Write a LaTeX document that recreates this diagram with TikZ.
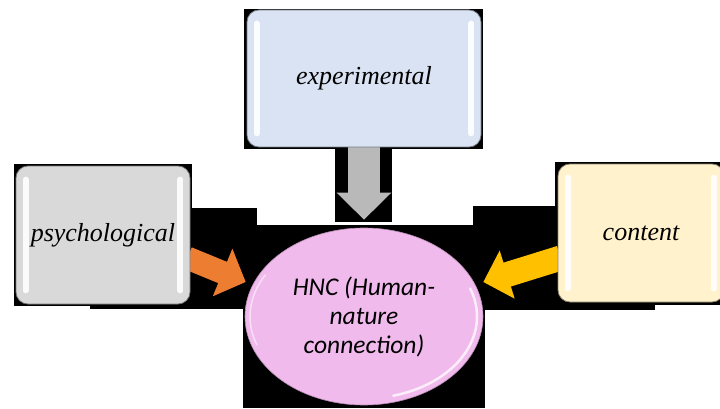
\documentclass[tikz,border=0pt]{standalone}
\usepackage{fontspec}
\setmainfont{Liberation Serif}
\newfontfamily\hncfont{Carlito}
\usetikzlibrary{shapes.geometric,arrows.meta,calc}

\definecolor{expfill}{RGB}{218,227,243}
\definecolor{psyfill}{RGB}{217,217,217}
\definecolor{confill}{RGB}{255,242,204}
\definecolor{hncfill}{RGB}{241,186,236}
\definecolor{orangearrow}{RGB}{237,125,49}
\definecolor{goldarrow}{RGB}{255,192,0}
\definecolor{grayarrow}{RGB}{185,185,185}

\pgfdeclarelayer{backdrop}
\pgfdeclarelayer{links}
\pgfsetlayers{backdrop,links,main}

\begin{document}
\begin{tikzpicture}[x=1pt,y=-1pt,
  panel/.style={rounded corners=12pt, draw=#1!55!black, line width=0.8pt,
    fill=#1, minimum height=137pt, inner sep=0pt,
    font=\fontsize{26}{30}\selectfont\itshape, text=black},
  gloss/.style={white, line width=6pt, line cap=round, opacity=0.9},
  blockarrow/.style args={#1/#2/#3/#4}{draw=#1, fill=#1, line width=#2,
    -{Triangle[width=#3,length=#4]}},
  hncnode/.style={ellipse, fill=hncfill, draw=hncfill!75!black, line width=0.6pt,
    minimum width=238pt, minimum height=177pt, inner sep=0pt, align=center,
    font=\hncfont\fontsize{25.5}{29}\selectfont\itshape}
]
\useasboundingbox (0,0) rectangle (720,409);

% white page and dark backing plates behind each shape
\begin{pgfonlayer}{backdrop}
  \fill[white] (0,0) rectangle (720,409);
  \fill[black] (244,9) rectangle (483,149);
  \fill[black] (335,149) rectangle (392,222);
  \fill[black] (90,208) rectangle (257,309);
  \fill[black] (14,164) rectangle (192,306);
  \fill[black] (473,206) rectangle (655,310);
  \fill[black] (555,162) rectangle (720,305);
  \fill[black] (243,225) rectangle (485,408);
\end{pgfonlayer}

% source boxes
\node[panel=expfill, minimum width=234pt] (exp) at (364,78.5) {experimental};
\node[panel=psyfill, minimum width=174pt, minimum height=138pt] (psy) at (103,235) {psychological};
\node[panel=confill, minimum width=166pt, minimum height=138pt] (con) at (641,233) {content};

% glossy side highlights
\foreach \b in {exp,psy,con}{
  \draw[gloss] ([xshift=10pt,yshift=-14pt]\b.north west) -- ([xshift=10pt,yshift=14pt]\b.south west);
  \draw[gloss] ([xshift=-10pt,yshift=-14pt]\b.north east) -- ([xshift=-10pt,yshift=14pt]\b.south east);
}

% central ellipse
\node[hncnode] (hnc) at (364,316.5) {HNC (Human-\\nature\\connection)};
\draw[white, line width=2.5pt, opacity=0.75, line cap=round]
  ([shift={(-75:113pt and 82pt)}]hnc.center) arc[start angle=-75, end angle=20, x radius=113pt, y radius=82pt];
\draw[white, line width=1.5pt, opacity=0.55, line cap=round]
  ([shift={(150:114pt and 83pt)}]hnc.center) arc[start angle=150, end angle=200, x radius=114pt, y radius=83pt];

% block arrows into the ellipse
\begin{pgfonlayer}{links}
  \draw[blockarrow=grayarrow/32pt/53pt/27pt] ([yshift=3pt]exp.south) -- ([yshift=8pt]hnc.north);
  \draw[blockarrow=orangearrow/23pt/50pt/25pt] ([xshift=-3pt,yshift=-23pt]psy.east) -- ([xshift=1pt,yshift=34.5pt]hnc.west);
  \draw[blockarrow=goldarrow/25pt/49pt/25pt] ([xshift=3pt,yshift=-25pt]con.west) -- ([xshift=0pt,yshift=34.5pt]hnc.east);
\end{pgfonlayer}
\end{tikzpicture}
\end{document}
